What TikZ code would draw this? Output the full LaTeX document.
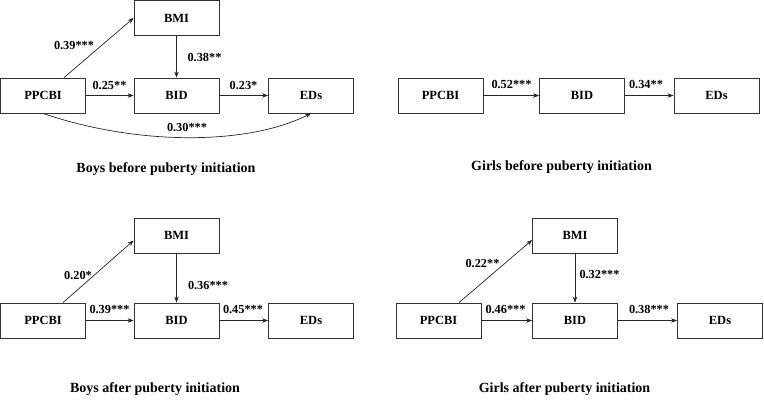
\documentclass[tikz,border=0pt]{standalone}
\usepackage{fontspec}
\setmainfont{Liberation Serif}
\usetikzlibrary{arrows.meta}
\begin{document}
\begin{tikzpicture}[x=1pt,y=-1pt,
  box/.style={draw=black!80,line width=0.8pt,minimum width=85pt,minimum height=35pt,inner sep=0pt,font=\fontsize{12.5}{14}\selectfont\bfseries},
  lbl/.style={inner sep=0pt,font=\fontsize{12.3}{14}\selectfont\bfseries},
  captiontext/.style={inner sep=0pt,font=\fontsize{14}{16}\selectfont\bfseries},
  arr/.style={draw=black!85,line width=0.7pt,-{Stealth[length=6pt,width=4.5pt]}}]
\useasboundingbox (0,0) rectangle (764,401);
% Panel 1
\node[box] (M1) at (176.5,18) {BMI};
\node[box] (P1) at (43,95.5) {PPCBI};
\node[box] (B1) at (176.5,95.5) {BID};
\node[box] (E1) at (311,95.5) {EDs};
\draw[arr] ([xshift=21pt]P1.north) -- (M1.west);
\draw[arr] (M1.south) -- (B1.north);
\draw[arr] (P1.east) -- (B1.west);
\draw[arr] (B1.east) -- (E1.west);
\draw[arr] (P1.south) .. controls (135,145) and (246,146) .. (E1.south);
\node[lbl] (l11) at (74,45) {0.39***};
\node[lbl] (l12) at (204.5,57) {0.38**};
\node[lbl] (l13) at (109.5,85) {0.25**};
\node[lbl] (l14) at (243.5,85) {0.23*};
\node[lbl] (l15) at (187,127) {0.30***};
\node[captiontext] (c1) at (166,169) {Boys before puberty initiation};
% Panel 2
\node[box] (P2) at (440.5,95.5) {PPCBI};
\node[box] (B2) at (582,95.5) {BID};
\node[box] (E2) at (716.5,95.5) {EDs};
\draw[arr] (P2.east) -- (B2.west);
\draw[arr] (B2.east) -- (E2.west);
\node[lbl] (l21) at (511.5,84) {0.52***};
\node[lbl] (l22) at (646,84) {0.34**};
\node[captiontext] (c2) at (561.5,167) {Girls before puberty initiation};
% Panel 3
\node[box] (M3) at (176.5,235.5) {BMI};
\node[box] (P3) at (43,320.5) {PPCBI};
\node[box] (B3) at (176.5,320.5) {BID};
\node[box] (E3) at (311,320.5) {EDs};
\draw[arr] ([xshift=20pt]P3.north) -- ([yshift=-5pt]M3.west);
\draw[arr] (M3.south) -- (B3.north);
\draw[arr] (P3.east) -- (B3.west);
\draw[arr] (B3.east) -- (E3.west);
\node[lbl] (l31) at (78,275) {0.20*};
\node[lbl] (l32) at (208,285) {0.36***};
\node[lbl] (l33) at (109.5,309) {0.39***};
\node[lbl] (l34) at (243,309) {0.45***};
\node[captiontext] (c3) at (155,389) {Boys after puberty initiation};
% Panel 4
\node[box] (M4) at (575,235.5) {BMI};
\node[box] (P4) at (438.5,320.5) {PPCBI};
\node[box] (B4) at (575,320.5) {BID};
\node[box] (E4) at (720,320.5) {EDs};
\draw[arr] ([xshift=20.5pt]P4.north) -- ([yshift=-4.5pt]M4.west);
\draw[arr] (M4.south) -- (B4.north);
\draw[arr] (P4.east) -- (B4.west);
\draw[arr] (B4.east) -- (E4.west);
\node[lbl] (l41) at (482.5,263) {0.22**};
\node[lbl] (l42) at (599.5,274) {0.32***};
\node[lbl] (l43) at (505.5,309) {0.46***};
\node[lbl] (l44) at (649,309) {0.38***};
\node[captiontext] (c4) at (564.5,389) {Girls after puberty initiation};
\end{tikzpicture}
\end{document}
